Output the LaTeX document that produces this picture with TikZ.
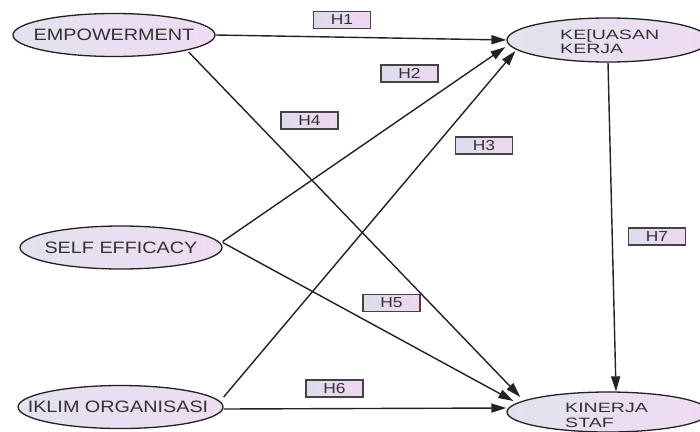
\documentclass[tikz,border=0pt]{standalone}
\usepackage{fontspec}
\setmainfont{Liberation Sans}
\newfontfamily\bigf[FakeStretch=1.2]{Liberation Sans}
\newfontfamily\twof[FakeStretch=1.45]{Liberation Sans}
\usetikzlibrary{shapes.geometric,arrows.meta,calc}
\definecolor{elL}{HTML}{E2E2EE}
\definecolor{elR}{HTML}{F0DCF2}
\definecolor{bxL}{HTML}{DCDCEC}
\definecolor{bxR}{HTML}{F0D6F0}
\definecolor{ink}{HTML}{222222}
\definecolor{txt}{HTML}{333333}
\tikzset{
  latent/.style={ellipse, draw=ink, line width=1.3pt, left color=elL, right color=elR,
    minimum width=202pt, minimum height=43pt, inner sep=0pt},
  lab/.style={inner sep=0pt, text=txt, font=\bigf\fontsize{16.5}{18}\selectfont},
  hbox/.style={rectangle, draw=ink!85, line width=1.3pt, left color=bxL, right color=bxR,
    minimum width=57pt, minimum height=17pt, inner sep=0pt, text=txt,
    font=\bigf\fontsize{14.5}{16}\selectfont},
  conn/.style={draw=ink, line width=1.4pt, -{Triangle[length=15pt,width=9pt]}},
  twol/.style={inner sep=0pt, text=txt, font=\twof\fontsize{13.5}{14.5}\selectfont},
}
\begin{document}
\begin{tikzpicture}[x=1pt,y=-1pt]
\useasboundingbox (0,0) rectangle (700,431);
\fill[white] (0,0) rectangle (700,431);
% latent variables
\node[latent] (emp) at (114,35) {};
\node[latent] (self) at (121,247.5) {};
\node[latent, minimum width=205pt] (ikl) at (120.5,407) {};
\node[latent, minimum height=44pt] (kep) at (608,40) {};
\node[latent, minimum height=40pt] (kin) at (608,412) {};
\node[lab] (empt) at (114,35) {EMPOWERMENT};
\node[lab] (selft) at (121,247.5) {SELF EFFICACY};
\node[lab] (iklt) at (118,407) {IKLIM ORGANISASI};
\node[twol, anchor=base west] (kep1) at (560,39) {KE[UASAN};
\node[twol, anchor=base west] (kep2) at (560,53) {KERJA};
\node[twol, anchor=base west] (kin1) at (565,412) {KINERJA};
\node[twol, anchor=base west] (kin2) at (565,427) {STAF};
% connectors
\draw[conn] (emp.east) -- (kep.west);
\draw[conn] ([shift={(0,-6)}]self.east) -- ([shift={(-1,7)}]kep.west);
\draw[conn] ([shift={(0,-10)}]ikl.east) -- ([shift={(9,11)}]kep.west);
\draw[conn] ([shift={(-27,17)}]emp.east) -- ([shift={(14,-15)}]kin.west);
\draw[conn] ([shift={(0,-5)}]self.east) -- ([shift={(7,-11)}]kin.west);
\draw[conn] ([shift={(0,2)}]ikl.east) -- ([shift={(0,-4)}]kin.west);
\draw[conn] (kep.south) -- ([shift={(8,0)}]kin.north);
% hypothesis labels
\node[hbox] (h1) at (342,20) {H1};
\node[hbox] (h2) at (409.5,73.5) {H2};
\node[hbox] (h3) at (484,145.5) {H3};
\node[hbox] (h4) at (309.5,120.5) {H4};
\node[hbox] (h5) at (391.5,303) {H5};
\node[hbox] (h6) at (334.5,388.5) {H6};
\node[hbox] (h7) at (657,236.5) {H7};
\end{tikzpicture}
\end{document}
